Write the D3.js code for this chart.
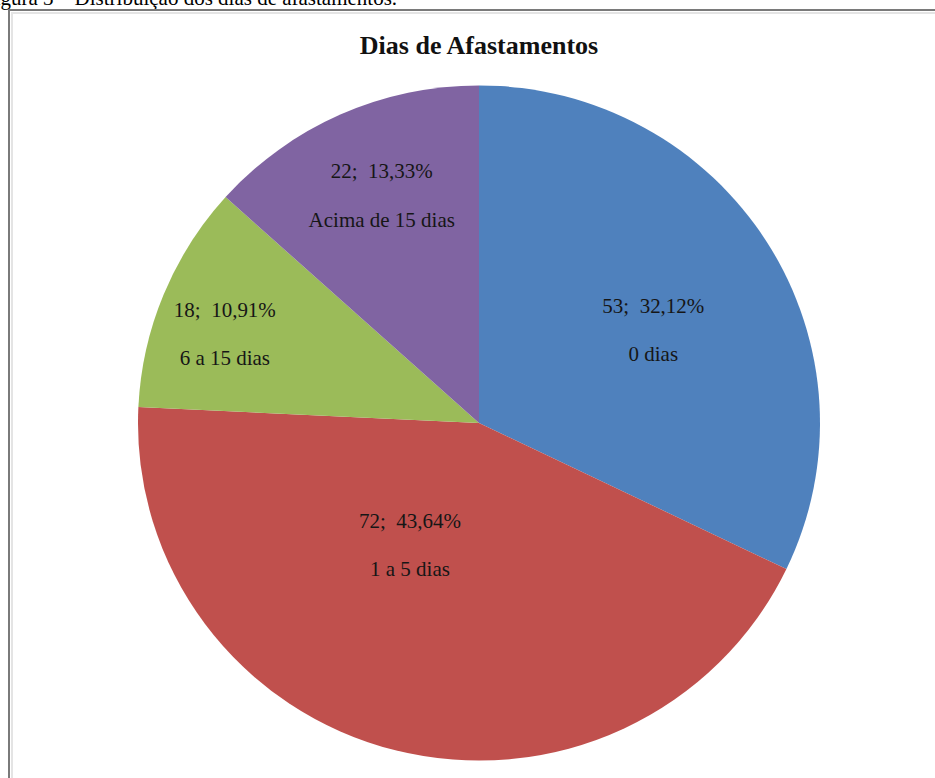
<!DOCTYPE html>
<html>
<head>
<meta charset="utf-8">
<script src="https://cdn.jsdelivr.net/npm/d3@7"></script>
<style>
  body { margin: 0; background: #fff; }
  svg { display: block; }
</style>
</head>
<body>
<svg width="935" height="778"></svg>
<script>
// categories and values
const categories = ["0 dias", "1 a 5 dias", "6 a 15 dias", "Acima de 15 dias"];
const values = [53, 72, 18, 22];
const percents = ["32,12%", "43,64%", "10,91%", "13,33%"];
const colors = ["#4F81BD", "#C0504D", "#9BBB59", "#8064A2"];

const svg = d3.select("svg");
const serif = "'Liberation Serif', 'Times New Roman', serif";
const cx = 479;
const cy = 423;
const radius = 341;

// caption, cut off at the top of the page like in the scan
svg.append("text")
    .attr("x", -17)
    .attr("y", 5)
    .attr("font-family", serif)
    .attr("font-size", 21)
    .attr("fill", "#000")
    .text("Figura 3 – Distribuição dos dias de afastamentos.");

// chart frame (only top and left edges visible)
svg.append("path")
    .attr("d", "M9,778 V10 H935")
    .attr("fill", "none")
    .attr("stroke", "#7a7a7a")
    .attr("stroke-width", 2);
svg.append("path")
    .attr("d", "M12,778 V13 H935")
    .attr("fill", "none")
    .attr("stroke", "#e4e4e4")
    .attr("stroke-width", 2);

svg.append("text")
    .attr("x", cx)
    .attr("y", 54)
    .attr("text-anchor", "middle")
    .attr("font-family", serif)
    .attr("font-weight", "bold")
    .attr("font-size", 26)
    .attr("fill", "#111")
    .text("Dias de Afastamentos");

const pie = d3.pie().sort(null).value(d => d);
const arcs = pie(values);
const arc = d3.arc().innerRadius(0).outerRadius(radius);

const g = svg.append("g")
    .attr("transform", `translate(${cx},${cy}) scale(1,0.99)`);

g.selectAll("path.slice")
    .data(arcs)
    .enter()
    .append("path")
    .attr("class", "slice")
    .attr("d", arc)
    .attr("fill", (d, i) => colors[i]);

// label placement: fraction of radius and angle shift (degrees) per slice
const labelK = [0.58, 0.415, 0.79, 0.73];
const labelShift = [4, 15, -3, 1];

const labels = g.selectAll("g.label")
    .data(arcs)
    .enter()
    .append("g")
    .attr("class", "label")
    .attr("transform", (d, i) => {
        const a = (d.startAngle + d.endAngle) / 2 + labelShift[i] * Math.PI / 180;
        const r = radius * labelK[i];
        return `translate(${r * Math.sin(a)},${-r * Math.cos(a)})`;
    });

labels.append("text")
    .attr("y", -18)
    .attr("text-anchor", "middle")
    .attr("font-family", serif)
    .attr("font-size", 21)
    .attr("fill", "#161616")
    .style("white-space", "pre")
    .text((d, i) => `${values[i]};  ${percents[i]}`);

labels.append("text")
    .attr("y", 31)
    .attr("text-anchor", "middle")
    .attr("font-family", serif)
    .attr("font-size", 21)
    .attr("fill", "#161616")
    .text((d, i) => categories[i]);
</script>
</body>
</html>
